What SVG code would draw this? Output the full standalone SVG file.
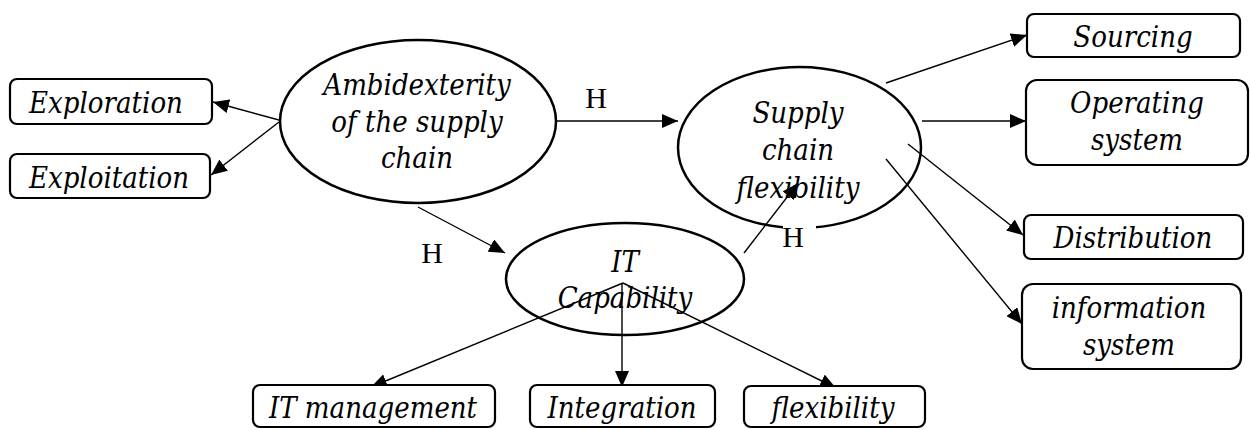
<svg xmlns="http://www.w3.org/2000/svg" width="1250" height="430" viewBox="0 0 1250 430">
<style>
.ell{fill:none;stroke:#000;stroke-width:2.5}
.box{fill:#fff;stroke:#000;stroke-width:2.2}
.t{font-family:"DejaVu Serif Condensed","DejaVu Serif",serif;font-stretch:condensed;font-style:italic;font-size:29px;text-anchor:middle;fill:#000}
.h{font-family:"Liberation Serif","Times New Roman",serif;font-size:30px;text-anchor:middle;fill:#000}
.c line{stroke:#000;stroke-width:1.4;marker-end:url(#ah)}
</style>
<defs>
<marker id="ah" viewBox="0 0 16 14" refX="16" refY="7" markerWidth="16" markerHeight="14" orient="auto" markerUnits="userSpaceOnUse"><path d="M0,0 L16,7 L0,14 z" fill="#000"/></marker>
</defs>
<rect width="1250" height="430" fill="#fff"/>
<g id="ambidexterity">
<ellipse class="ell" cx="418" cy="121.5" rx="138" ry="81.5"/>
<text class="t" x="417" y="95">Ambidexterity</text>
<text class="t" x="417" y="132">of the supply</text>
<text class="t" x="417" y="168">chain</text>
</g>
<g id="scf">
<ellipse class="ell" cx="799.5" cy="147.5" rx="121.5" ry="80.5"/>
<text class="t" x="798" y="123">Supply</text>
<text class="t" x="798" y="160">chain</text>
<text class="t" x="798" y="198">flexibility</text>
</g>
<g id="itcap">
<ellipse class="ell" cx="625" cy="279" rx="119" ry="56"/>
<text class="t" x="625" y="272">IT</text>
<text class="t" x="625" y="308">Capability</text>
</g>
<g id="labels">
<text class="h" x="596" y="108">H</text>
<rect x="783" y="222" width="33" height="12" fill="#fff"/>
<text class="h" x="793" y="247">H</text>
<text class="h" x="432" y="263">H</text>
</g>
<g class="c" id="connectors">
<line x1="279" y1="120" x2="213" y2="102"/>
<line x1="279" y1="122" x2="211" y2="175"/>
<line x1="556" y1="121" x2="678" y2="121"/>
<line x1="418" y1="207" x2="505" y2="253"/>
<line x1="744" y1="253" x2="798" y2="183"/>
<line x1="886" y1="83" x2="1027" y2="35"/>
<line x1="922" y1="121" x2="1026" y2="121"/>
<line x1="908" y1="144" x2="1023" y2="235"/>
<line x1="886" y1="159" x2="1022" y2="324"/>
<line x1="623" y1="283" x2="371" y2="387"/>
<line x1="622" y1="283" x2="622" y2="387"/>
<line x1="623" y1="283" x2="836" y2="388"/>
</g>
<g id="exploration"><rect class="box" x="10" y="79" width="202" height="45" rx="7"/><text class="t" x="106" y="113">Exploration</text></g>
<g id="exploitation"><rect class="box" x="10" y="154" width="200" height="44" rx="7"/><text class="t" x="109" y="188">Exploitation</text></g>
<g id="sourcing"><rect class="box" x="1027" y="14" width="213" height="43" rx="7"/><text class="t" x="1133" y="47">Sourcing</text></g>
<g id="operating"><rect class="box" x="1026" y="80" width="222" height="85" rx="11"/><text class="t" x="1137" y="113">Operating</text><text class="t" x="1137" y="150">system</text></g>
<g id="distribution"><rect class="box" x="1024" y="215" width="219" height="44" rx="7"/><text class="t" x="1133" y="248">Distribution</text></g>
<g id="information"><rect class="box" x="1022" y="284" width="219" height="85" rx="11"/><text class="t" x="1129" y="318">information</text><text class="t" x="1129" y="355">system</text></g>
<g id="itmanagement"><rect class="box" x="253" y="385" width="242" height="42" rx="7"/><text class="t" x="373" y="418">IT management</text></g>
<g id="integration"><rect class="box" x="530" y="385" width="185" height="42" rx="7"/><text class="t" x="622" y="418">Integration</text></g>
<g id="flexibility"><rect class="box" x="744" y="386" width="181" height="41" rx="7"/><text class="t" x="833" y="418">flexibility</text></g>
</svg>
